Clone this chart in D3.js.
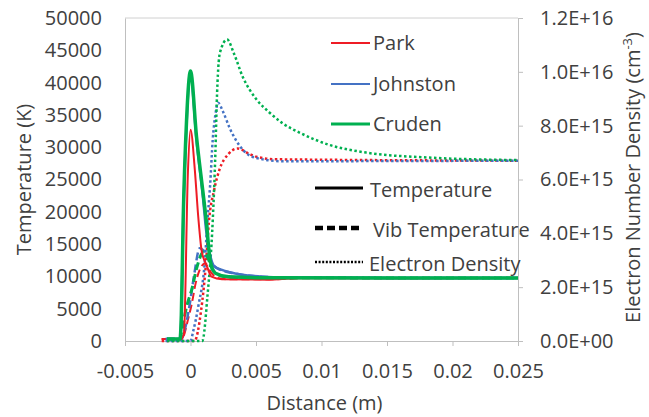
<!DOCTYPE html>
<html>
<head>
<meta charset="utf-8">
<script src="https://cdn.jsdelivr.net/npm/d3@7"></script>
<style>
  body { margin: 0; background: #fff; }
  svg text { font-family: "Open Sans", "Noto Sans", sans-serif; fill: #404040; }
</style>
</head>
<body>
<svg id="chart" width="649" height="417"></svg>
<script>
// x = distance (m), y = temperature (K) or electron density (cm^-3)
var parkT = [[-0.0022,300],[-0.0007,300],[-0.0005,1200],[-0.0002,26000],[0,32700],[0.00033,26500],[0.00058,19500],[0.00084,14100],[0.0011,12300],[0.0013,11300],[0.0016,9950],[0.0024,9550],[0.006,9500],[0.008,9700],[0.025,9750]];
var johnT = [[-0.0019,300],[-0.0008,300],[-0.0007,3500],[-0.00056,18000],[-0.0003,33500],[0,41000],[0.00046,31000],[0.00096,22000],[0.0012,17000],[0.0015,13300],[0.0018,11600],[0.0024,11000],[0.0034,10450],[0.0055,9950],[0.008,9800],[0.025,9750]];
var crudT = [[-0.0018,300],[-0.0008,300],[-0.0007,4000],[-0.00056,18700],[-0.0003,34200],[0,41800],[0.00046,31600],[0.00096,22900],[0.0012,18700],[0.0015,12500],[0.0019,10500],[0.0029,9950],[0.006,9780],[0.025,9750]];

var parkTv = [[-0.0022,300],[-0.0007,300],[-0.00056,600],[-0.0002,3250],[0.0001,5800],[0.0004,9000],[0.0007,11000],[0.0011,12000],[0.0015,10800],[0.002,9800],[0.003,9550],[0.006,9550],[0.009,9750],[0.025,9750]];
var johnTv = [[-0.0019,300],[-0.0007,300],[-0.00044,1700],[-0.00005,5800],[0.0003,10500],[0.0007,14350],[0.001,14000],[0.0014,12600],[0.002,11300],[0.0034,10450],[0.0055,9950],[0.008,9800],[0.025,9750]];
var crudTv = [[-0.0018,300],[-0.0008,300],[-0.0007,1200],[-0.0003,5300],[0.0001,8000],[0.0005,11500],[0.001,13800],[0.0013,13000],[0.0017,11000],[0.0025,10000],[0.004,9800],[0.025,9750]];

var parkNe = [[-0.0022,0],[0.0003,0],[0.0008,1.1e15],[0.0012,3.0e15],[0.0014,4.4e15],[0.0018,5.6e15],[0.0022,6.35e15],[0.0029,6.95e15],[0.0036,7.15e15],[0.0045,6.95e15],[0.005,6.85e15],[0.0066,6.75e15],[0.025,6.7e15]];
var johnNe = [[-0.0019,0],[0,0],[0.0002,0.35e15],[0.0006,1.3e15],[0.0011,3.0e15],[0.0013,4.5e15],[0.0015,5.8e15],[0.0017,7.5e15],[0.0019,8.4e15],[0.0021,8.85e15],[0.0025,8.5e15],[0.003,7.9e15],[0.004,7.1e15],[0.005,6.8e15],[0.007,6.68e15],[0.025,6.7e15]];
var crudNe = [[-0.0018,0],[0.0009,0],[0.0013,1.7e15],[0.0017,4.5e15],[0.0019,7.0e15],[0.002,8.8e15],[0.00224,1.07e16],[0.0028,1.12e16],[0.0033,1.07e16],[0.004,9.8e15],[0.005,9.0e15],[0.006,8.5e15],[0.007,8.1e15],[0.0085,7.7e15],[0.0105,7.3e15],[0.0134,7.0e15],[0.018,6.82e15],[0.025,6.72e15]];

var xTicks = [-0.005, 0, 0.005, 0.01, 0.015, 0.02, 0.025];
var tTicks = [0,5000,10000,15000,20000,25000,30000,35000,40000,45000,50000];
var neTicks = [0,2e15,4e15,6e15,8e15,1e16,1.2e16];
var models = ["Park", "Johnston", "Cruden"];
var lineTypes = ["Temperature", "Vib Temperature", "Electron Density"];

var red = "#EE1C25", blue = "#4472C4", green = "#00B050";

var pL = 125, pR = 518, pT = 18, pB = 341;
var svg = d3.select("#chart");

var x = d3.scaleLinear().domain([-0.005, 0.025]).range([pL, pR]);
var yT = d3.scaleLinear().domain([0, 50000]).range([pB, pT]);
var yN = d3.scaleLinear().domain([0, 1.2e16]).range([pB, pT]);

// plot frame top
svg.append("line").attr("x1", pL).attr("x2", pR).attr("y1", pT).attr("y2", pT)
  .attr("stroke", "#d0d0d0").attr("stroke-width", 1);

// bottom axis
var xAxis = d3.axisBottom(x).tickValues(xTicks).tickSize(5).tickSizeOuter(0)
  .tickFormat(function(d){ return String(+d.toFixed(3)); });
var gx = svg.append("g").attr("transform", "translate(0," + pB + ")").call(xAxis);
gx.select(".domain").attr("stroke", "#bfbfbf");
gx.selectAll(".tick line").attr("stroke", "#bfbfbf");
gx.selectAll("text").attr("font-size", 20).attr("dy", "1.45em").attr("fill", "#404040");

// left axis
var yAxisL = d3.axisLeft(yT).tickValues(tTicks).tickSize(0).tickPadding(23).tickFormat(d3.format("d"));
var gl = svg.append("g").attr("transform", "translate(" + pL + ",0)").call(yAxisL);
gl.select(".domain").attr("stroke", "#bfbfbf");
gl.selectAll("text").attr("font-size", 20).attr("fill", "#404040");

// right axis
function sci(v){
  if (v === 0) return "0.0E+00";
  var e = Math.floor(Math.log10(v) + 1e-9);
  var m = v / Math.pow(10, e);
  return m.toFixed(1) + "E+" + (e < 10 ? "0" + e : e);
}
var yAxisR = d3.axisRight(yN).tickValues(neTicks).tickSize(5).tickSizeOuter(0).tickPadding(17).tickFormat(sci);
var gr = svg.append("g").attr("transform", "translate(" + pR + ",0)").call(yAxisR);
gr.select(".domain").attr("stroke", "#bfbfbf");
gr.selectAll(".tick line").attr("stroke", "#bfbfbf");
gr.selectAll("text").attr("font-size", 20).attr("fill", "#404040");

// axis titles
svg.append("text").attr("x", (pL + pR) / 2 + 3).attr("y", 410).attr("text-anchor", "middle")
  .attr("font-size", 20).text("Distance (m)");
svg.append("text").attr("transform", "translate(31," + (pT + pB) / 2 + ") rotate(-90)")
  .attr("text-anchor", "middle").attr("font-size", 20).text("Temperature (K)");
var rt = svg.append("text").attr("transform", "translate(640," + ((pT + pB) / 2 - 2) + ") rotate(-90)")
  .attr("text-anchor", "middle").attr("font-size", 20);
rt.append("tspan").text("Electron Number Density (cm");
rt.append("tspan").attr("font-size", 13).attr("dy", -8).text("-3");
rt.append("tspan").attr("dy", 8).text(")");

// lines
var lineT = d3.line().x(function(d){ return x(d[0]); }).y(function(d){ return yT(d[1]); }).curve(d3.curveMonotoneX);
var lineN = d3.line().x(function(d){ return x(d[0]); }).y(function(d){ return yN(d[1]); }).curve(d3.curveMonotoneX);

var dotted = [[parkNe, red], [johnNe, blue], [crudNe, green]];
dotted.forEach(function(s){
  svg.append("path").attr("d", lineN(s[0])).attr("fill", "none").attr("stroke", s[1])
    .attr("stroke-width", 2.5).attr("stroke-dasharray", "2.5,2.5");
});
var dashed = [[parkTv, red, 2], [johnTv, blue, 2.5], [crudTv, green, 3]];
dashed.forEach(function(s){
  svg.append("path").attr("d", lineT(s[0])).attr("fill", "none").attr("stroke", s[1])
    .attr("stroke-width", s[2]).attr("stroke-dasharray", "8,4");
});
var solid = [[parkT, red, 2], [johnT, blue, 2.5], [crudT, green, 3.5]];
solid.forEach(function(s){
  svg.append("path").attr("d", lineT(s[0])).attr("fill", "none").attr("stroke", s[1])
    .attr("stroke-width", s[2]).attr("stroke-linejoin", "round");
});

// legend: models (colours)
var modelColors = [red, blue, green];
var modelY = [43, 84, 124];
models.forEach(function(m, i){
  svg.append("line").attr("x1", 331).attr("x2", 370).attr("y1", modelY[i]).attr("y2", modelY[i])
    .attr("stroke", modelColors[i]).attr("stroke-width", i === 2 ? 3 : 2);
  svg.append("text").attr("x", 373).attr("y", modelY[i]).attr("dy", "0.35em")
    .attr("font-size", 20).text(m);
});

// legend: line types
var typeY = [188, 228, 262];
var typeDash = [null, "8,4", "2,1.6"];
var typeW = [3, 4.5, 2.5];
var typeTextX = [370, 373, 369];
lineTypes.forEach(function(t, i){
  svg.append("line").attr("x1", 315).attr("x2", 363).attr("y1", typeY[i]).attr("y2", typeY[i])
    .attr("stroke", "#000").attr("stroke-width", typeW[i]).attr("stroke-dasharray", typeDash[i]);
  svg.append("text").attr("x", typeTextX[i]).attr("y", typeY[i] + 2).attr("dy", "0.35em")
    .attr("font-size", 20).text(t);
});
</script>
</body>
</html>
